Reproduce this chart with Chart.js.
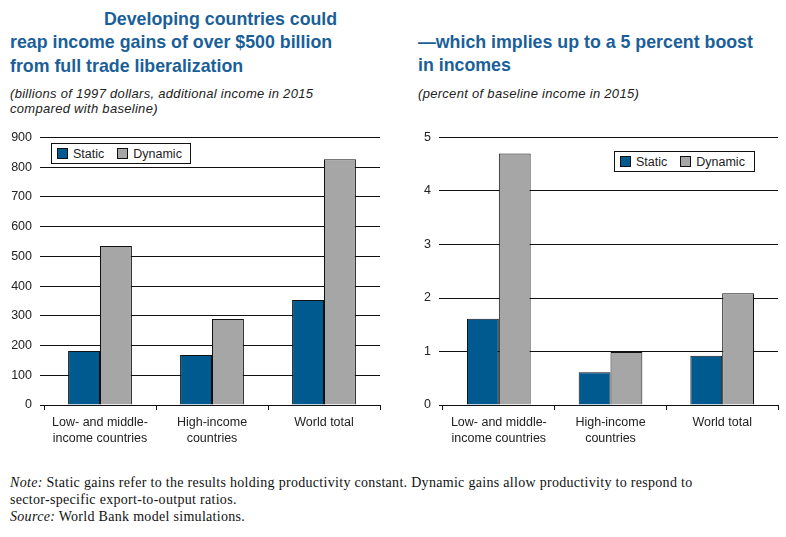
<!DOCTYPE html>
<html>
<head>
<meta charset="utf-8">
<script src="https://cdn.jsdelivr.net/npm/chart.js@4.4.1/dist/chart.umd.min.js"></script>
<style>
    body { margin: 0; background: #fff; width: 786px; height: 537px; position: relative; overflow: hidden; font-family: "Liberation Sans", Arial, sans-serif; }
    .title { position: absolute; color: #1b5f99; font-weight: bold; font-size: 17.8px; line-height: 23.3px; white-space: nowrap; }
    .sub { position: absolute; color: #222; font-style: italic; font-size: 13px; line-height: 14.5px; letter-spacing: 0.3px; white-space: nowrap; }
    .box { position: absolute; }
    .legend { position: absolute; border: 1px solid #111; background: #fff; font-size: 12.5px; color: #222; height: 21px; line-height: 20px; white-space: nowrap; box-sizing: border-box; }
    .legend span.sw { display: inline-block; width: 9px; height: 9px; border: 1px solid #111; vertical-align: -1px; margin: 0 5px 0 5px; }
    .notes { position: absolute; left: 10px; top: 474px; font-family: "Liberation Serif", "Times New Roman", serif; font-size: 14px; line-height: 17px; letter-spacing: 0.3px; color: #111; white-space: nowrap; }
</style>
</head>
<body>
<div class="title" style="left:10px; top:8px;"><span style="padding-left:94px;">Developing countries could</span><br>reap income gains of over $500 billion<br>from full trade liberalization</div>
<div class="sub" style="left:10px; top:87px;">(billions of 1997 dollars, additional income in 2015<br>compared with baseline)</div>

<div class="title" style="left:418px; top:31px;">—which implies up to a 5 percent boost<br>in incomes</div>
<div class="sub" style="left:418px; top:87px;">(percent of baseline income in 2015)</div>

<div class="box" style="left:0px; top:122px; width:390px; height:337px;"><canvas id="left-chart"></canvas></div>
<div class="box" style="left:400px; top:122px; width:386px; height:337px;"><canvas id="right-chart"></canvas></div>

<div class="legend" style="left:51px; top:143px; width:140px;"><span class="sw" style="background:#005a8f;"></span>Static<span class="sw" style="background:#a6a6a6; margin-left:13px;"></span>Dynamic</div>
<div class="legend" style="left:614px; top:151px; width:141px;"><span class="sw" style="background:#005a8f;"></span>Static<span class="sw" style="background:#a6a6a6; margin-left:13px;"></span>Dynamic</div>

<div class="notes"><i>Note:</i> Static gains refer to the results holding productivity constant. Dynamic gains allow productivity to respond to<br>sector-specific export-to-output ratios.<br><i>Source:</i> World Bank model simulations.</div>

<script>
// Income gains charts

const categories = [['Low- and middle-', 'income countries'], ['High-income', 'countries'], 'World total'];

// billions of 1997 dollars
const staticGains = [182, 168, 353];
const dynamicGains = [535, 289, 827];

// percent of baseline income
const staticPercent = [1.61, 0.61, 0.92];
const dynamicPercent = [4.70, 0.99, 2.09];

const staticColor = '#005a8f';
const dynamicColor = '#a6a6a6';
const inkColor = '#111';

function makeChart(canvasId, staticData, dynamicData, yMax, yStep, yWidth, padRight) {
    const ctx = document.getElementById(canvasId).getContext('2d');

    const data = {
        labels: categories,
        datasets: [
            {
                label: 'Static',
                backgroundColor: staticColor,
                borderColor: inkColor,
                borderWidth: 1,
                borderSkipped: 'bottom',
                data: staticData
            },
            {
                label: 'Dynamic',
                backgroundColor: dynamicColor,
                borderColor: inkColor,
                borderWidth: 1,
                borderSkipped: 'bottom',
                data: dynamicData
            }
        ]
    };

    const options = {
        maintainAspectRatio: false,
        responsive: true,
        animation: false,
        events: [],
        categoryPercentage: 0.57,
        barPercentage: 1.0,
        layout: { padding: { top: 1, right: padRight, left: 0, bottom: 0 } },
        plugins: {
            legend: { display: false },
            tooltip: { enabled: false }
        },
        scales: {
            x: {
                afterFit: function(scale) { scale.height = 54; },
                grid: {
                    display: true,
                    drawOnChartArea: false,
                    drawTicks: true,
                    tickLength: 5,
                    color: inkColor,
                    offset: true
                },
                border: { display: true, color: inkColor, width: 1 },
                ticks: {
                    color: '#222',
                    padding: 4,
                    maxRotation: 0,
                    font: { family: '"Liberation Sans", Arial, sans-serif', size: 12.5, lineHeight: 1.3 }
                }
            },
            y: {
                min: 0,
                max: yMax,
                afterFit: function(scale) { scale.width = yWidth; },
                grid: {
                    display: true,
                    drawTicks: true,
                    tickLength: 4,
                    color: inkColor,
                    lineWidth: 1
                },
                border: { display: false },
                ticks: {
                    stepSize: yStep,
                    color: '#222',
                    padding: 8,
                    font: { family: '"Liberation Sans", Arial, sans-serif', size: 12.5 }
                }
            }
        }
    };

    return new Chart(ctx, { type: 'bar', data: data, options: options });
}

makeChart('left-chart', staticGains, dynamicGains, 900, 100, 44, 10);
makeChart('right-chart', staticPercent, dynamicPercent, 5, 1, 43, 8);
</script>
</body>
</html>
